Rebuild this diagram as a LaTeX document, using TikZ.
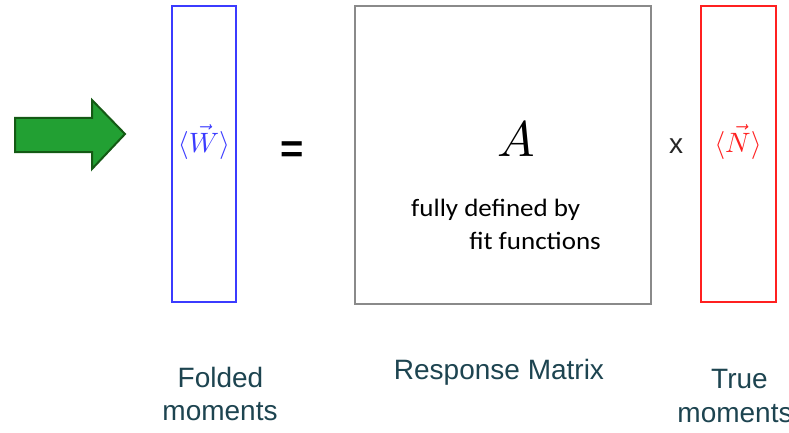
\documentclass[tikz,border=0pt]{standalone}
\usepackage{fontspec}
\setmainfont{Liberation Sans}
\newfontfamily\calib{Carlito}
\definecolor{labelc}{HTML}{1D4450}
\definecolor{bluec}{HTML}{3B3BFF}
\definecolor{redc}{HTML}{FF2020}
\definecolor{grayc}{HTML}{8A8A8A}
\definecolor{greenf}{HTML}{22A033}
\definecolor{greend}{HTML}{145A14}
\begin{document}
\begin{tikzpicture}[x=1pt,y=-1pt,
  box/.style={draw, line width=2pt},
  lbl/.style={anchor=base, inner sep=0pt, text=labelc, font=\fontsize{28}{30}\selectfont},
  bigm/.style={inner sep=0pt}]
\useasboundingbox (0,0) rectangle (789,433);
% green arrow
\draw[fill=greenf, draw=greend, line width=2pt, line join=miter]
  (15,118) -- (92,118) -- (92,100) -- (125,134) -- (92,169) -- (92,152) -- (15,152) -- cycle;
% boxes
\node[box, draw=bluec, minimum width=64pt, minimum height=295pt, inner sep=0pt] (W) at (203.5,154) {};
\node[box, draw=grayc, minimum width=296pt, minimum height=297pt, inner sep=0pt] (A) at (503,155) {};
\node[box, draw=redc, minimum width=75pt, minimum height=295pt, inner sep=0pt] (N) at (738.5,154) {};
% contents
\node[bigm, text=bluec] (wv) at (204,142) {\scalebox{2.8}{$\langle\vec{W}\rangle$}};
\node[bigm, font=\fontsize{40}{40}\selectfont\bfseries] (eq) at (292,152) {=};
\node[bigm] (am) at (516,139) {\scalebox{5}{$A$}};
\node[anchor=base west, inner sep=0pt, font=\calib\fontsize{25}{27}\selectfont] (t1) at (411,216) {\scalebox{1.08}[1]{fully defined by}};
\node[anchor=base east, inner sep=0pt, font=\calib\fontsize{25}{27}\selectfont] (t2) at (601,249) {\scalebox{1.08}[1]{fit functions}};
\node[bigm, text=black!85, font=\fontsize{28}{30}\selectfont] (x) at (676,146) {x};
\node[bigm, text=redc] (nv) at (738,142) {\scalebox{2.8}{$\langle\vec{N}\rangle$}};
% labels
\node[lbl] (f1) at (220.5,387) {Folded};
\node[lbl] (f2) at (220,420) {moments};
\node[lbl] (r1) at (499,379) {Response Matrix};
\node[lbl] (u1) at (739.5,388) {True};
\node[lbl] (u2) at (735,422) {moments};
\end{tikzpicture}
\end{document}
